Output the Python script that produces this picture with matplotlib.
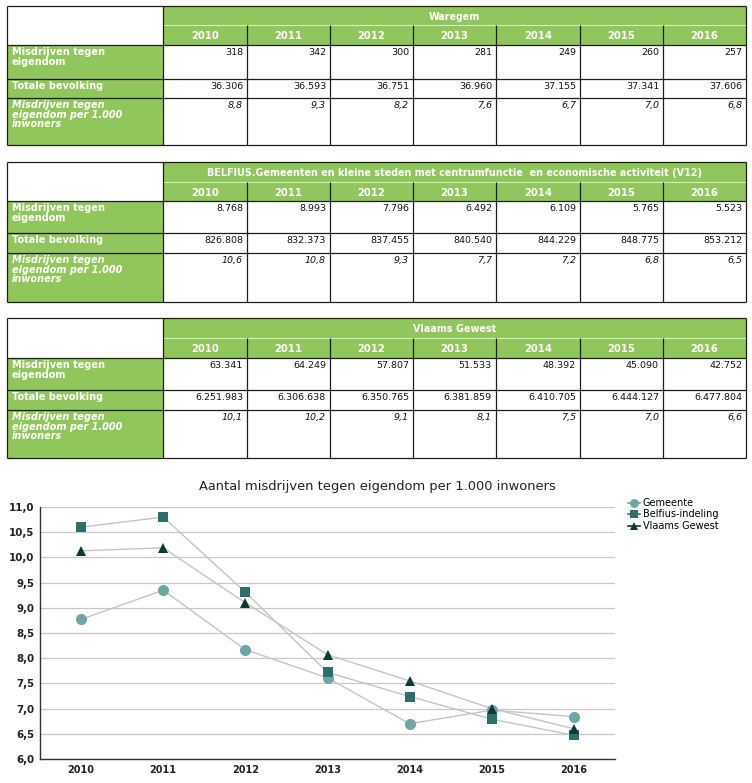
import matplotlib
matplotlib.use("Agg")
import matplotlib.pyplot as plt
from matplotlib.patches import Rectangle
from matplotlib.lines import Line2D

# ---------------- data ----------------
years = [2010, 2011, 2012, 2013, 2014, 2015, 2016]
row_labels = ["Misdrijven tegen\neigendom", "Totale bevolking",
              "Misdrijven tegen\neigendom per 1.000\ninwoners"]

waregem_title = "Waregem"
waregem_crimes = [318, 342, 300, 281, 249, 260, 257]
waregem_pop = [36306, 36593, 36751, 36960, 37155, 37341, 37606]
waregem_rate = [8.8, 9.3, 8.2, 7.6, 6.7, 7.0, 6.8]

belfius_title = "BELFIUS.Gemeenten en kleine steden met centrumfunctie  en economische activiteit (V12)"
belfius_crimes = [8768, 8993, 7796, 6492, 6109, 5765, 5523]
belfius_pop = [826808, 832373, 837455, 840540, 844229, 848775, 853212]
belfius_rate = [10.6, 10.8, 9.3, 7.7, 7.2, 6.8, 6.5]

vlaams_title = "Vlaams Gewest"
vlaams_crimes = [63341, 64249, 57807, 51533, 48392, 45090, 42752]
vlaams_pop = [6251983, 6306638, 6350765, 6381859, 6410705, 6444127, 6477804]
vlaams_rate = [10.1, 10.2, 9.1, 8.1, 7.5, 7.0, 6.6]

chart_title = "Aantal misdrijven tegen eigendom per 1.000 inwoners"
series_names = ["Gemeente", "Belfius-indeling", "Vlaams Gewest"]
gemeente_vals = [8.77, 9.35, 8.17, 7.61, 6.70, 6.97, 6.84]
belfius_vals = [10.60, 10.80, 9.31, 7.72, 7.24, 6.79, 6.47]
vlaams_vals = [10.13, 10.19, 9.10, 8.07, 7.55, 7.00, 6.60]
y_ticks = [6.0, 6.5, 7.0, 7.5, 8.0, 8.5, 9.0, 9.5, 10.0, 10.5, 11.0]

# ---------------- layout ----------------
W, H = 752, 783
fig = plt.figure(figsize=(W / 100, H / 100), dpi=100)
plt.rcParams['font.family'] = ['DejaVu Sans']

GREEN = "#90c65b"
LINE = "#1e1e1e"


def fx(x):
    return x / W


def fy(y):
    return 1 - y / H


def rect(x0, y0, x1, y1, color):
    fig.add_artist(Rectangle((fx(x0), fy(y1)), (x1 - x0) / W, (y1 - y0) / H,
                             transform=fig.transFigure, facecolor=color,
                             edgecolor="none", zorder=1))


def line(x0, y0, x1, y1, color=LINE, lw=0.9):
    fig.add_artist(Line2D([fx(x0), fx(x1)], [fy(y0), fy(y1)],
                          transform=fig.transFigure, color=color, lw=lw,
                          zorder=3, solid_capstyle="butt"))


def fmt_int(v):
    return f"{v:,}".replace(",", ".")


def fmt_rate(v):
    return f"{v:.1f}".replace(".", ",")


col_edges = [7, 163, 247, 330, 413, 496, 580, 663, 746]


def draw_table(title, crimes, pop, rate, rows):
    top, tb, yb, r1, r2, r3 = rows
    x_left, x_lab, x_right = col_edges[0], col_edges[1], col_edges[-1]
    rect(x_lab, top, x_right, yb, GREEN)
    rect(x_left, yb, x_lab, r3, GREEN)
    line(x_lab, tb, x_right, tb, color="#d8ecc4", lw=0.8)
    line(x_left, top, x_right, top)
    for yy in (yb, r1, r2, r3):
        line(x_left, yy, x_right, yy)
    line(x_left, top, x_left, r3)
    line(x_lab, top, x_lab, r3)
    line(x_right, top, x_right, r3)
    for xe in col_edges[2:-1]:
        line(xe, tb, xe, r3)
    fig.text(fx((x_lab + x_right) / 2), fy((top + tb) / 2 + 1), title,
             ha="center", va="center", color="white", fontsize=6.9,
             fontweight="bold", zorder=4)
    for i, yr in enumerate(years):
        cx = (col_edges[i + 1] + col_edges[i + 2]) / 2
        fig.text(fx(cx), fy((tb + yb) / 2 + 1), str(yr), ha="center",
                 va="center", color="white", fontsize=7.2, fontweight="bold",
                 zorder=4)
    row_tops = [yb, r1, r2]
    for j, lab in enumerate(row_labels):
        fig.text(fx(x_left + 5), fy(row_tops[j] + 2), lab, ha="left", va="top",
                 color="white", fontsize=7.0, fontweight="bold",
                 fontstyle="italic" if j == 2 else "normal",
                 linespacing=0.95, zorder=4)
    vals = [[fmt_int(v) for v in crimes], [fmt_int(v) for v in pop],
            [fmt_rate(v) for v in rate]]
    for j in range(3):
        for i in range(7):
            fig.text(fx(col_edges[i + 2] - 4), fy(row_tops[j] + 3), vals[j][i],
                     ha="right", va="top", color="#111111", fontsize=6.8,
                     fontstyle="italic" if j == 2 else "normal", zorder=4)


draw_table(waregem_title, waregem_crimes, waregem_pop, waregem_rate,
           [6, 25, 45, 79, 98, 145])
draw_table(belfius_title, belfius_crimes, belfius_pop, belfius_rate,
           [162, 182, 201, 233, 253, 302])
draw_table(vlaams_title, vlaams_crimes, vlaams_pop, vlaams_rate,
           [318, 338, 358, 390, 410, 458])

# ---------------- chart ----------------
ax = fig.add_axes([fx(40), fy(759), (615 - 40) / W, (759 - 507) / H])
x = list(range(len(years)))
styles = [
    (gemeente_vals, "o", "#6fa5a2", 8.0),
    (belfius_vals, "s", "#2f6e6a", 7.0),
    (vlaams_vals, "^", "#0e3a35", 6.5),
]
handles = []
for (vals, mk, col, ms), name in zip(styles, series_names):
    ax.plot(x, vals, color="#c4c4c4", lw=1.0, zorder=2)
    ax.plot(x, vals, linestyle="none", marker=mk, color=col, ms=ms,
            markeredgewidth=0, zorder=3)
    handles.append(Line2D([0], [0], color=col, lw=1.2, marker=mk, ms=ms * 0.8,
                          markeredgewidth=0, label=name))

ax.set_xlim(-0.5, len(years) - 0.5)
ax.set_ylim(6.0, 11.0)
ax.set_yticks(y_ticks)
ax.set_yticklabels([f"{v:.1f}".replace(".", ",") for v in y_ticks],
                   fontsize=7.4, color="#222222", fontweight="bold")
ax.set_xticks(x)
ax.set_xticklabels([str(y) for y in years], fontsize=7, color="#222222",
                   fontweight="bold")
ax.tick_params(axis="both", length=0, pad=4)
ax.grid(axis="y", color="#c8c8c8", lw=0.9)
ax.set_axisbelow(True)
for s in ("top", "right"):
    ax.spines[s].set_visible(False)
ax.spines["left"].set_color("#333333")
ax.spines["bottom"].set_color("#333333")
ax.spines["left"].set_linewidth(1.0)
ax.spines["bottom"].set_linewidth(1.0)

fig.text(fx(377), fy(487), chart_title, ha="center", va="center",
         fontsize=9.4, color="#222222")

fig.legend(handles=handles, loc="upper left",
           bbox_to_anchor=(fx(628), fy(498)), frameon=False, fontsize=7,
           handlelength=1.2, handletextpad=0.3, labelspacing=0.15,
           borderpad=0, borderaxespad=0)

fig.savefig("out.png", dpi=100)
